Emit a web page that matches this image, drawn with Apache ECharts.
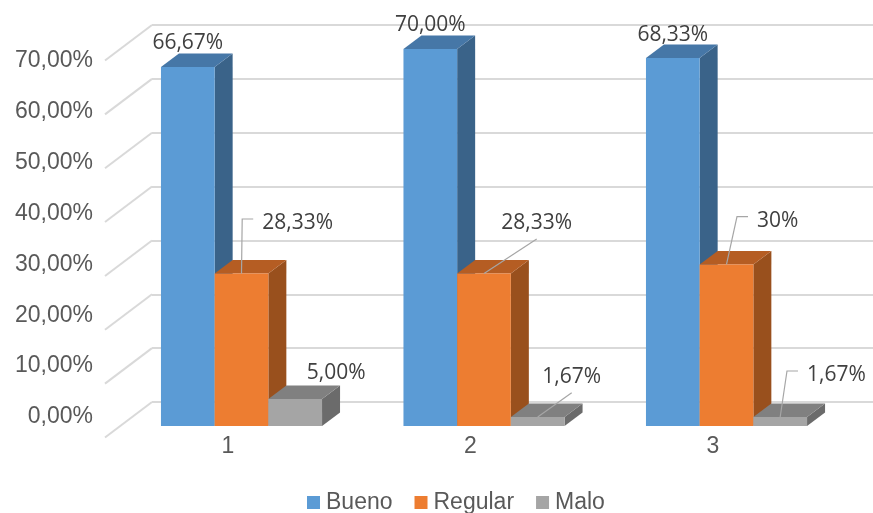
<!DOCTYPE html>
<html><head><meta charset="utf-8">
<script src="https://cdn.jsdelivr.net/npm/echarts@6/dist/echarts.min.js"></script>
<style>html,body{margin:0;padding:0;background:#fff}#c{width:873px;height:513px}</style>
</head><body><div id="c"></div>
<script>
// ---- data ----
const categories = ['1', '2', '3'];
const seriesNames = ['Bueno', 'Regular', 'Malo'];
const bueno = [66.67, 70.00, 68.33];
const regular = [28.33, 28.33, 30.00];
const malo = [5.00, 1.67, 1.67];
const buenoLabels = ['66,67%', '70,00%', '68,33%'];
const regularLabels = ['28,33%', '28,33%', '30%'];
const maloLabels = ['5,00%', '1,67%', '1,67%'];
const yTicks = [0, 10, 20, 30, 40, 50, 60, 70];
const yTickLabels = ['0,00%', '10,00%', '20,00%', '30,00%', '40,00%', '50,00%', '60,00%', '70,00%'];

// ---- style / layout ----
const seriesValues = [bueno, regular, malo];
const seriesLabels = [buenoLabels, regularLabels, maloLabels];
const faceColors = [
  { front: '#5b9bd5', top: '#4677a7', side: '#3a6389' },
  { front: '#ed7d31', top: '#b55d23', side: '#99501d' },
  { front: '#a5a5a5', top: '#808080', side: '#6b6b6b' }
];
const labelLayouts = [
  [{ dx: 0, dy: -24, align: 'center', leader: 'none' }, { dx: 0, dy: -24, align: 'center', leader: 'none' }, { dx: 0, dy: -23, align: 'center', leader: 'none' }],
  [{ dx: 20.7, dy: -50.4, align: 'left', leader: 'elbow' }, { dx: 52.7, dy: -50.4, align: 'center', leader: 'straight' }, { dx: 30.5, dy: -43.8, align: 'left', leader: 'elbow' }],
  [{ dx: 41, dy: -26, align: 'center', leader: 'none' }, { dx: 34, dy: -40.3, align: 'center', leader: 'straight' }, { dx: 26.8, dy: -42, align: 'left', leader: 'elbow' }]
];
const DX = 18, DY = -13.5;          // bar depth offset
const WALL_DX = -47, WALL_DY = 35.5; // floor diagonal offset
const AXIS_FONT = '"Liberation Sans", Arial, sans-serif';
const LABEL_FONT = '"Open Sans", sans-serif';

function makeBarRender(s) {
  return function (params, api) {
    const i = api.value(0), v = api.value(1);
    const band = api.size([1, 0])[0];
    const bw = band * 0.2214;
    const c = api.coord([i, v]);
    const b = api.coord([i, 0]);
    const x0 = c[0] - 1.5 * bw + s * bw, x1 = x0 + bw;
    const yt = c[1], yb = b[1];
    const col = faceColors[s];
    const children = [
      { type: 'polygon', shape: { points: [[x1, yt], [x1 + DX, yt + DY], [x1 + DX, yb + DY], [x1, yb]] }, style: { fill: col.side } },
      { type: 'polygon', shape: { points: [[x0, yt], [x1, yt], [x1 + DX, yt + DY], [x0 + DX, yt + DY]] }, style: { fill: col.top } },
      { type: 'rect', shape: { x: x0, y: yt, width: bw, height: yb - yt }, style: { fill: col.front } }
    ];
    const L = labelLayouts[s][i];
    const ax = (x0 + x1) / 2, ay = yt;
    const lx = ax + L.dx, ly = ay + L.dy;
    if (L.leader === 'elbow') {
      children.push({ type: 'polyline', shape: { points: [[ax, ay], [lx - 20, ly - 4], [lx - 9, ly - 4]] }, style: { stroke: '#a6a6a6', lineWidth: 1.2, fill: null } });
    } else if (L.leader === 'straight') {
      children.push({ type: 'polyline', shape: { points: [[ax, ay], [lx, ly + 16]] }, style: { stroke: '#a6a6a6', lineWidth: 1.2, fill: null } });
    }
    children.push({ type: 'text', style: { text: seriesLabels[s][i], x: lx, y: ly, align: L.align, verticalAlign: 'middle', fill: '#404040', fontSize: 21, fontFamily: LABEL_FONT } });
    return { type: 'group', children: children };
  };
}

const chart = echarts.init(document.getElementById('c'), null, { renderer: 'canvas' });
const barSeries = seriesNames.map(function (name, s) {
  return {
    name: name,
    type: 'custom',
    xAxisIndex: 0, yAxisIndex: 0,
    z: 10 + s,
    itemStyle: { color: faceColors[s].front },
    renderItem: makeBarRender(s),
    encode: { x: 0, y: 1 },
    data: seriesValues[s].map(function (v, i) { return [i, v]; })
  };
});

const option = {
  animation: false,
  backgroundColor: '#ffffff',
  legend: {
    data: seriesNames,
    left: 307, top: 491,
    icon: 'rect', itemWidth: 13, itemHeight: 13, itemGap: 22, padding: 0,
    textStyle: { fontSize: 23, color: '#595959', fontFamily: AXIS_FONT, padding: [0, 0, 0, 1] }
  },
  grid: [
    // 0: bars
    { left: 120.25, right: 25.25, top: 49, bottom: 87 },
    // 1: back wall
    { left: 152, right: 0, top: 25, bottom: 111 },
    // 2: value axis labels
    { left: 100, width: 50, top: 61, bottom: 96 },
    // 3: category labels
    { left: 106.75, right: 38.75, top: 100, bottom: 83 }
  ],
  xAxis: [
    { gridIndex: 0, type: 'category', data: categories, show: false },
    { gridIndex: 1, type: 'value', min: 0, max: 1, show: false },
    { gridIndex: 2, type: 'value', min: 0, max: 1, show: false },
    { gridIndex: 3, type: 'category', data: categories,
      axisLine: { show: false }, axisTick: { show: false },
      axisLabel: { fontSize: 23, color: '#595959', fontFamily: AXIS_FONT, margin: 5 } }
  ],
  yAxis: [
    { gridIndex: 0, type: 'value', min: 0, max: 70, show: false },
    { gridIndex: 1, type: 'value', min: 0, max: 70, interval: 10,
      axisLine: { show: false }, axisTick: { show: false }, axisLabel: { show: false },
      splitLine: { show: true, lineStyle: { color: '#d9d9d9', width: 2 } } },
    { gridIndex: 2, type: 'value', min: 0, max: 70, interval: 10,
      axisLine: { show: false }, axisTick: { show: false }, splitLine: { show: false },
      axisLabel: { fontSize: 23, color: '#595959', fontFamily: AXIS_FONT, margin: 7,
        formatter: function (v) { return yTickLabels[yTicks.indexOf(v)]; } } },
    { gridIndex: 3, type: 'value', min: 0, max: 1, show: false }
  ],
  series: [
    {
      type: 'custom', xAxisIndex: 1, yAxisIndex: 1, z: 1, silent: true,
      renderItem: function (params, api) {
        const p = api.coord([0, api.value(1)]);
        return { type: 'line', shape: { x1: p[0], y1: p[1], x2: p[0] + WALL_DX, y2: p[1] + WALL_DY },
          style: { stroke: '#d9d9d9', lineWidth: 2 } };
      },
      encode: { x: 0, y: 1 },
      data: yTicks.map(function (v) { return [0, v]; })
    }
  ].concat(barSeries)
};
chart.setOption(option);
</script>
</body></html>
